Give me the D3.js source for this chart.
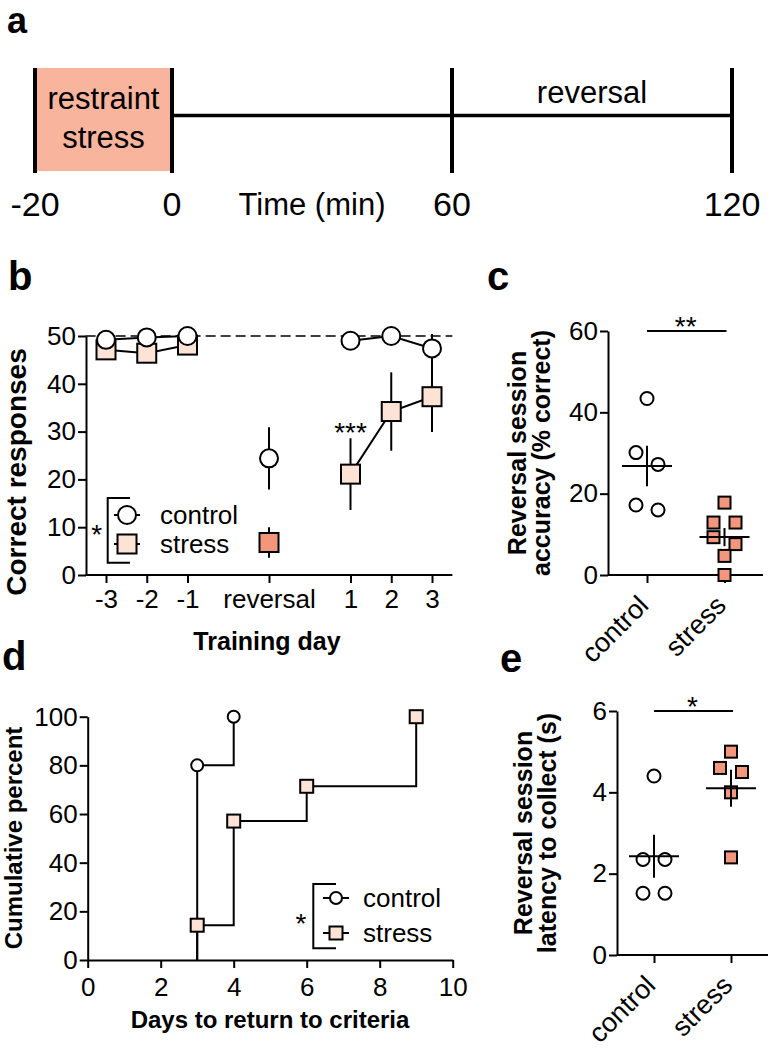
<!DOCTYPE html>
<html>
<head>
<meta charset="utf-8">
<script src="https://cdn.jsdelivr.net/npm/d3@7"></script>
<style>
  body { margin: 0; background: #fff; }
  svg text { font-family: "Liberation Sans", Arial, Helvetica, sans-serif; fill: #000; }
</style>
</head>
<body>
<svg id="fig" width="771" height="1050"></svg>
<script>
// ---- data ----
// a: protocol timeline (min)
const timeTicks = [-20, 0, 60, 120];

// b: correct responses per training day (mean, sem)
const dayLabels = ["-3", "-2", "-1", "reversal", "1", "2", "3"];
const daySlot = [0, 1, 2, 4, 6, 7, 8];
const ctrlMean = [49.2, 49.7, 50.0, 24.4, 49.0, 50.0, 47.4];
const ctrlSem = [0.8, 0.5, 0.4, 6.5, 0.8, 0.5, 3.0];
const stressMean = [47.1, 46.4, 48.1, 6.8, 21.1, 34.2, 37.3];
const stressSem = [1.2, 1.5, 1.0, 3.2, 7.5, 8.2, 7.4];

// c: reversal session accuracy (% correct)
const groups = ["control", "stress"];
const accControl = [43.4, 30.1, 27.2, 16.0, 17.2];
const accStress = [17.8, 12.9, 12.9, 9.3, 7.6, 4.7, 0];

// d: days to return to criteria (cumulative %)
const ctrlDays = [3, 4];
const ctrlCum = [80, 100];
const stressDays = [3, 4, 6, 9];
const stressCum = [14.3, 57.1, 71.4, 100];

// e: reversal session latency to collect (s)
const latControl = [4.4, 2.35, 2.35, 1.52, 1.52];
const latStress = [5.0, 4.6, 4.5, 4.0, 2.4];

// ---- style ----
const BOX = "#f8b49d", LIGHT = "#fde2d6", SALMON = "#f4967c";
const TICK = 26;
const svg = d3.select("#fig");

function txt(g, x, y, s, size, opt = {}) {
  return g.append("text").attr("x", x).attr("y", y).text(s)
    .attr("font-size", size)
    .attr("font-weight", opt.bold ? "bold" : null)
    .attr("text-anchor", opt.anchor || "start");
}

function styleAxis(g, size) {
  g.attr("font-family", null).attr("font-size", size);
  g.selectAll("path, line").attr("stroke", "#000").attr("stroke-width", 2);
  g.selectAll("text").attr("fill", "#000");
}

function circle(g, x, y, r, fill) {
  return g.append("circle").attr("cx", x).attr("cy", y).attr("r", r)
    .attr("fill", fill || "#fff").attr("stroke", "#000").attr("stroke-width", 2);
}
function square(g, x, y, s, fill) {
  return g.append("rect").attr("x", x - s / 2).attr("y", y - s / 2)
    .attr("width", s).attr("height", s)
    .attr("fill", fill).attr("stroke", "#000").attr("stroke-width", 2);
}

// spread points with close values sideways (scatter dot plot)
function swarm(values, y, size, gap) {
  const order = values.map((v, i) => ({ i, py: y(v) })).sort((a, b) => a.py - b.py);
  const rows = [];
  order.forEach(p => {
    const row = rows[rows.length - 1];
    if (row && Math.abs(p.py - row[0].py) < size) row.push(p);
    else rows.push([p]);
  });
  const off = values.map(() => 0);
  rows.forEach(row => row.forEach((p, k) => { off[p.i] = (k - (row.length - 1) / 2) * gap; }));
  return off;
}

// panel letters
[["a", 7, 33, 36], ["b", 8, 290, 40], ["c", 487, 290, 40], ["d", 2, 670, 40], ["e", 500, 672, 40]]
  .forEach(([l, x, y, s]) => txt(svg, x, y, l, s, { bold: true }));

// ---- a: timeline ----
const gA = svg.append("g");
const t = d3.scaleLinear().domain([-20, 0, 120]).range([35, 172, 732]);
gA.append("rect").attr("x", t(-20)).attr("y", 68)
  .attr("width", t(0) - t(-20)).attr("height", 103).attr("fill", BOX);
gA.append("line").attr("x1", t(0)).attr("x2", t(120)).attr("y1", 115.5).attr("y2", 115.5)
  .attr("stroke", "#000").attr("stroke-width", 3.5);
gA.selectAll("line.bar").data(timeTicks).join("line").attr("class", "bar")
  .attr("x1", d => t(d)).attr("x2", d => t(d)).attr("y1", 68).attr("y2", 173)
  .attr("stroke", "#000").attr("stroke-width", 4);
timeTicks.forEach(d => txt(gA, t(d), 216, d, 34, { anchor: "middle" }));
txt(gA, (t(0) + t(60)) / 2, 215, "Time (min)", 31, { anchor: "middle" });
txt(gA, (t(-20) + t(0)) / 2, 109, "restraint", 31, { anchor: "middle" });
txt(gA, (t(-20) + t(0)) / 2, 148, "stress", 31, { anchor: "middle" });
txt(gA, (t(60) + t(120)) / 2, 103, "reversal", 31, { anchor: "middle" });

// ---- b: training days ----
const gB = svg.append("g");
const xb = d3.scaleLinear().domain([0, 8]).range([106, 432]);
const yb = d3.scaleLinear().domain([0, 50]).range([575, 336]);

gB.append("g").attr("transform", "translate(86,0)")
  .call(d3.axisLeft(yb).tickValues([0, 10, 20, 30, 40, 50]).tickSize(8).tickPadding(2).tickSizeOuter(0))
  .call(g => styleAxis(g, TICK));
gB.append("g").attr("transform", "translate(0,575)")
  .call(d3.axisBottom(xb).tickValues(daySlot).tickFormat((d, i) => dayLabels[i])
    .tickSize(8).tickPadding(7).tickSizeOuter(0))
  .call(g => g.select(".domain").attr("d", `M${xb(-0.5)},0H${xb(8.5)}`))
  .call(g => styleAxis(g, TICK));

gB.append("line").attr("x1", xb(-0.5)).attr("x2", xb(8.5)).attr("y1", yb(50)).attr("y2", yb(50))
  .attr("stroke", "#000").attr("stroke-width", 1.5).attr("stroke-dasharray", "10,5");

const ptsC = dayLabels.map((l, i) => ({ l, x: daySlot[i], m: ctrlMean[i], e: ctrlSem[i] }));
const ptsS = dayLabels.map((l, i) => ({ l, x: daySlot[i], m: stressMean[i], e: stressSem[i] }));
const lineB = d3.line().defined(d => d.l !== "reversal").x(d => xb(d.x)).y(d => yb(d.m));

[ptsS, ptsC].forEach(pts => {
  gB.append("path").datum(pts).attr("d", lineB)
    .attr("fill", "none").attr("stroke", "#000").attr("stroke-width", 2);
  gB.selectAll(null).data(pts).join("line")
    .attr("x1", d => xb(d.x)).attr("x2", d => xb(d.x))
    .attr("y1", d => yb(d.m - d.e)).attr("y2", d => yb(d.m + d.e))
    .attr("stroke", "#000").attr("stroke-width", 2);
});
ptsS.forEach(d => square(gB, xb(d.x), yb(d.m), 19, d.l === "reversal" ? SALMON : LIGHT));
ptsC.forEach(d => circle(gB, xb(d.x), yb(d.m), 9));
txt(gB, xb(6), yb(ptsS[4].m + ptsS[4].e) + 4, "***", 28, { anchor: "middle" });

// legend b
gB.append("path").attr("d", "M130,498H107.7V562.7H130")
  .attr("fill", "none").attr("stroke", "#000").attr("stroke-width", 2);
txt(gB, 96.7, 544, "*", 28, { anchor: "middle" });
[[515, "control"], [544, "stress"]].forEach(([y, s]) => {
  gB.append("line").attr("x1", 114).attr("x2", 140).attr("y1", y).attr("y2", y)
    .attr("stroke", "#000").attr("stroke-width", 2);
  if (s === "control") circle(gB, 127, y, 9); else square(gB, 127, y, 19, LIGHT);
  txt(gB, 160, y + 9, s, 26);
});
txt(gB, 267, 650, "Training day", 25, { bold: true, anchor: "middle" });
txt(gB, 0, 0, "Correct responses", 28, { bold: true, anchor: "middle" })
  .attr("transform", "translate(26,472) rotate(-90)");

// ---- c & e: scatter dot plots ----
function dotPlot(cfg) {
  const g = svg.append("g");
  const y = d3.scaleLinear().domain([0, cfg.max]).range([cfg.y0, cfg.y1]);
  const x = d3.scalePoint().domain(groups).range(cfg.xr);
  g.append("g").attr("transform", `translate(${cfg.ax},0)`)
    .call(d3.axisLeft(y).tickValues(cfg.ticks).tickFormat(d3.format("d"))
      .tickSize(8).tickPadding(2).tickSizeOuter(0))
    .call(a => styleAxis(a, TICK));
  g.append("g").attr("transform", `translate(0,${cfg.y0})`)
    .call(d3.axisBottom(x).tickSize(8).tickSizeOuter(0).tickFormat(""))
    .call(a => a.select(".domain").attr("d", `M${cfg.ax},0H${cfg.axEnd}`))
    .call(a => styleAxis(a, TICK));
  groups.forEach(grp => {
    txt(g, 0, 0, grp, 27, { anchor: "end" })
      .attr("transform", `translate(${x(grp) + 3},${cfg.y0 + 32}) rotate(-45)`);
  });
  const sets = [cfg.control, cfg.stress];
  sets.forEach((vals, k) => {
    const cx = x(groups[k]);
    const off = swarm(vals, y, k === 0 ? 15 : 14, 22);
    vals.forEach((v, i) => {
      if (k === 0) circle(g, cx + off[i], y(v), 6.5);
      else square(g, cx + off[i], y(v), 12, SALMON);
    });
    const m = d3.mean(vals), sem = d3.deviation(vals) / Math.sqrt(vals.length);
    g.append("line").attr("x1", cx - 25).attr("x2", cx + 25).attr("y1", y(m)).attr("y2", y(m))
      .attr("stroke", "#000").attr("stroke-width", 2);
    g.append("line").attr("x1", cx).attr("x2", cx).attr("y1", y(m - sem)).attr("y2", y(m + sem))
      .attr("stroke", "#000").attr("stroke-width", 2);
  });
  g.append("line").attr("x1", x(groups[0])).attr("x2", x(groups[1]) + 2)
    .attr("y1", y(cfg.max)).attr("y2", y(cfg.max)).attr("stroke", "#000").attr("stroke-width", 2);
  txt(g, (x(groups[0]) + x(groups[1])) / 2, y(cfg.max) + 5, cfg.sig, 28, { anchor: "middle" });
  const yl = txt(g, 0, 0, "", 25, { bold: true, anchor: "middle" })
    .attr("transform", `translate(${cfg.lx},${(cfg.y0 + cfg.y1) / 2}) rotate(-90)`);
  cfg.label.forEach((s, i) => yl.append("tspan").attr("x", 0).attr("y", i * 24).text(s));
}

dotPlot({ control: accControl, stress: accStress, max: 60, ticks: [0, 20, 40, 60],
  y0: 575, y1: 331, ax: 608, axEnd: 763, xr: [647, 724.5], sig: "**", lx: 526,
  label: ["Reversal session", "accuracy (% correct)"] });

dotPlot({ control: latControl, stress: latStress, max: 6, ticks: [0, 2, 4, 6],
  y0: 955, y1: 711, ax: 617, axEnd: 768, xr: [654, 731], sig: "*", lx: 532,
  label: ["Reversal  session", "latency to collect (s)"] });

// ---- d: cumulative return to criteria ----
const gD = svg.append("g");
const xd = d3.scaleLinear().domain([0, 10]).range([87.7, 452.7]);
const yd = d3.scaleLinear().domain([0, 100]).range([960, 716.7]);
gD.append("g").attr("transform", "translate(87.7,0)")
  .call(d3.axisLeft(yd).tickValues([0, 20, 40, 60, 80, 100]).tickSize(8).tickPadding(2).tickSizeOuter(0))
  .call(g => styleAxis(g, TICK));
gD.append("g").attr("transform", "translate(0,960)")
  .call(d3.axisBottom(xd).tickValues([0, 2, 4, 6, 8, 10]).tickSize(8).tickPadding(10).tickSizeOuter(0))
  .call(g => styleAxis(g, TICK));

const step = d3.line().curve(d3.curveStepAfter).x(d => xd(d[0])).y(d => yd(d[1]));
[[stressDays, stressCum], [ctrlDays, ctrlCum]].forEach(([days, cum]) => {
  const pts = [[days[0], 0]].concat(days.map((d, i) => [d, cum[i]]));
  gD.append("path").datum(pts).attr("d", step)
    .attr("fill", "none").attr("stroke", "#000").attr("stroke-width", 2);
});
stressDays.forEach((d, i) => square(gD, xd(d), yd(stressCum[i]), 13, LIGHT));
ctrlDays.forEach((d, i) => circle(gD, xd(d), yd(ctrlCum[i]), 6));

// legend d
gD.append("path").attr("d", "M336,884H313.3V948.3H336")
  .attr("fill", "none").attr("stroke", "#000").attr("stroke-width", 2);
txt(gD, 301, 933, "*", 28, { anchor: "middle" });
[[898, "control"], [933, "stress"]].forEach(([y, s]) => {
  gD.append("line").attr("x1", 323).attr("x2", 349).attr("y1", y).attr("y2", y)
    .attr("stroke", "#000").attr("stroke-width", 2);
  if (s === "control") circle(gD, 336, y, 6); else square(gD, 336, y, 13, LIGHT);
  txt(gD, 363, y + 9, s, 26);
});
txt(gD, 270, 1028, "Days to return to criteria", 24, { bold: true, anchor: "middle" });
txt(gD, 0, 0, "Cumulative percent", 24, { bold: true, anchor: "middle" })
  .attr("transform", "translate(22,838) rotate(-90)");
</script>
</body>
</html>
